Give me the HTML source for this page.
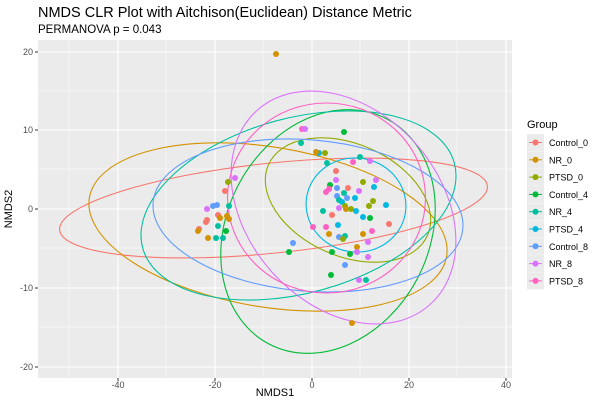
<!DOCTYPE html>
<html><head><meta charset="utf-8"><style>body{margin:0;background:#fff}svg{display:block;font-family:"Liberation Sans",sans-serif}</style></head><body>
<svg width="600" height="400" xmlns="http://www.w3.org/2000/svg">
<text x="38" y="17" font-size="14.5" fill="#000">NMDS CLR Plot with Aitchison(Euclidean) Distance Metric</text>
<text x="38" y="33" font-size="11.5" fill="#000">PERMANOVA p = 0.043</text>
<rect x="38" y="40" width="474" height="338" fill="#EBEBEB"/>
<g stroke="#fff" stroke-width="0.5">
<line x1="69" x2="69" y1="40" y2="378"/><line x1="166" x2="166" y1="40" y2="378"/><line x1="263" x2="263" y1="40" y2="378"/><line x1="360" x2="360" y1="40" y2="378"/><line x1="457" x2="457" y1="40" y2="378"/>
<line y1="91" y2="91" x1="38" x2="512"/><line y1="169" y2="169" x1="38" x2="512"/><line y1="248" y2="248" x1="38" x2="512"/><line y1="327" y2="327" x1="38" x2="512"/>
</g>
<g stroke="#fff" stroke-width="1.1">
<line x1="118" x2="118" y1="40" y2="378"/><line x1="215" x2="215" y1="40" y2="378"/><line x1="312" x2="312" y1="40" y2="378"/><line x1="409" x2="409" y1="40" y2="378"/><line x1="506" x2="506" y1="40" y2="378"/>
<line y1="52" y2="52" x1="38" x2="512"/><line y1="130" y2="130" x1="38" x2="512"/><line y1="209" y2="209" x1="38" x2="512"/><line y1="288" y2="288" x1="38" x2="512"/><line y1="367" y2="367" x1="38" x2="512"/>
</g>
<g fill="none" stroke-width="1.1">
<ellipse cx="273.5" cy="208" rx="215" ry="45" transform="rotate(-5.9 273.5 208)" stroke="#F8766D"/>
<ellipse cx="268" cy="227" rx="181" ry="80" transform="rotate(9.3 268 227)" stroke="#D39200"/>
<ellipse cx="348" cy="200" rx="87" ry="56" transform="rotate(24 348 200)" stroke="#93AA00"/>
<ellipse cx="328" cy="231.5" rx="127" ry="101" transform="rotate(117.8 328 231.5)" stroke="#00BA38"/>
<ellipse cx="298.5" cy="205.5" rx="161.5" ry="87.5" transform="rotate(-15.25 298.5 205.5)" stroke="#00C19F"/>
<ellipse cx="356" cy="205" rx="50" ry="47" transform="rotate(10 356 205)" stroke="#00B9E3"/>
<ellipse cx="308" cy="215.5" rx="155.4" ry="75.7" transform="rotate(4.8 308 215.5)" stroke="#619CFF"/>
<ellipse cx="343.5" cy="207.5" rx="130" ry="96.4" transform="rotate(48.5 343.5 207.5)" stroke="#DB72FB"/>
<ellipse cx="326.5" cy="198" rx="99" ry="95" stroke="#FF61C3"/>
</g>
<g>
<circle cx="302" cy="129" r="3" fill="#FF61C3"/><circle cx="305" cy="129" r="3" fill="#DB72FB"/>
<circle cx="344" cy="132" r="3" fill="#00BA38"/><circle cx="301" cy="143" r="3" fill="#00C19F"/>
<circle cx="319" cy="153" r="3" fill="#00B9E3"/><circle cx="325" cy="153" r="3" fill="#93AA00"/>
<circle cx="360" cy="157" r="3" fill="#00C19F"/><circle cx="353" cy="162" r="3" fill="#FF61C3"/><circle cx="370" cy="161" r="3" fill="#DB72FB"/>
<circle cx="327" cy="163" r="3" fill="#00C19F"/><circle cx="336" cy="171" r="3" fill="#F8766D"/>
<circle cx="228" cy="182" r="3" fill="#93AA00"/><circle cx="235" cy="178" r="3" fill="#DB72FB"/>
<circle cx="336" cy="180" r="3" fill="#DB72FB"/><circle cx="363" cy="182" r="3" fill="#93AA00"/><circle cx="376" cy="180" r="3" fill="#DB72FB"/>
<circle cx="330" cy="185" r="3" fill="#00BA38"/><circle cx="374" cy="187" r="3" fill="#00B9E3"/>
<circle cx="337" cy="188" r="3" fill="#619CFF"/><circle cx="348" cy="188" r="3" fill="#F8766D"/>
<circle cx="329" cy="189" r="3" fill="#FF61C3"/><circle cx="326" cy="192" r="3" fill="#FF61C3"/>
<circle cx="344" cy="193" r="3" fill="#00C19F"/><circle cx="359" cy="191" r="3" fill="#DB72FB"/>
<circle cx="225" cy="191" r="3" fill="#F8766D"/>
<circle cx="337" cy="196" r="3" fill="#619CFF"/><circle cx="347" cy="198" r="3" fill="#619CFF"/><circle cx="355" cy="198" r="3" fill="#00B9E3"/>
<circle cx="339" cy="200" r="3" fill="#00C19F"/><circle cx="342" cy="202" r="3" fill="#00B9E3"/><circle cx="373" cy="201" r="3" fill="#93AA00"/>
<circle cx="217" cy="205" r="3" fill="#619CFF"/><circle cx="213" cy="206" r="3" fill="#619CFF"/><circle cx="229" cy="206" r="3" fill="#00C19F"/>
<circle cx="345" cy="206" r="3" fill="#93AA00"/><circle cx="369" cy="206" r="3" fill="#93AA00"/>
<circle cx="207" cy="209" r="3" fill="#DB72FB"/><circle cx="339" cy="208" r="3" fill="#DB72FB"/>
<circle cx="346" cy="209" r="3" fill="#D39200"/><circle cx="351" cy="209" r="3" fill="#93AA00"/><circle cx="356" cy="211" r="3" fill="#00B9E3"/>
<circle cx="323" cy="211" r="3" fill="#00C19F"/><circle cx="332" cy="215" r="3" fill="#F8766D"/>
<circle cx="218" cy="215" r="3" fill="#F8766D"/><circle cx="220" cy="218" r="3" fill="#D39200"/><circle cx="227" cy="216" r="3" fill="#D39200"/><circle cx="229" cy="219" r="3" fill="#D39200"/>
<circle cx="207" cy="220" r="3" fill="#F8766D"/><circle cx="206" cy="222" r="3" fill="#F8766D"/>
<circle cx="363" cy="217" r="3" fill="#00B9E3"/><circle cx="370" cy="218" r="3" fill="#00BA38"/>
<circle cx="218" cy="226" r="3" fill="#00C19F"/>
<circle cx="313" cy="227" r="3" fill="#FF61C3"/><circle cx="326" cy="227" r="3" fill="#FF61C3"/><circle cx="338" cy="225" r="3" fill="#00B9E3"/><circle cx="372" cy="231" r="3" fill="#FF61C3"/>
<circle cx="199" cy="229" r="3" fill="#F8766D"/><circle cx="198" cy="231" r="3" fill="#D39200"/>
<circle cx="226" cy="231" r="3" fill="#00BA38"/>
<circle cx="329" cy="234" r="3" fill="#D39200"/><circle cx="363" cy="234" r="3" fill="#D39200"/>
<circle cx="339" cy="237" r="3" fill="#619CFF"/><circle cx="345" cy="236" r="3" fill="#00C19F"/><circle cx="343" cy="239" r="3" fill="#93AA00"/>
<circle cx="208" cy="238" r="3" fill="#D39200"/><circle cx="216" cy="238" r="3" fill="#00C19F"/><circle cx="223" cy="238" r="3" fill="#00C19F"/>
<circle cx="368" cy="242" r="3" fill="#DB72FB"/><circle cx="293" cy="243" r="3" fill="#619CFF"/>
<circle cx="289" cy="252" r="3" fill="#00BA38"/><circle cx="332" cy="252" r="3" fill="#00BA38"/>
<circle cx="357" cy="247" r="3" fill="#D39200"/><circle cx="357" cy="252" r="3" fill="#DB72FB"/>
<circle cx="350" cy="254" r="3" fill="#00BA38"/><circle cx="368" cy="257" r="3" fill="#DB72FB"/>
<circle cx="345" cy="265" r="3" fill="#619CFF"/><circle cx="331" cy="275" r="3" fill="#00BA38"/>
<circle cx="359" cy="280" r="3" fill="#DB72FB"/><circle cx="366" cy="280" r="3" fill="#00C19F"/>
<circle cx="276" cy="54" r="3" fill="#D39200"/><circle cx="352" cy="323" r="3" fill="#D39200"/>
<circle cx="389" cy="224" r="3" fill="#F8766D"/><circle cx="386" cy="205" r="3" fill="#00B9E3"/>
<circle cx="316" cy="152" r="3" fill="#D39200"/>
</g>
<g font-size="9" fill="#4D4D4D" text-anchor="middle">
<text x="118" y="388">-40</text><text x="215" y="388">-20</text><text x="312" y="388">0</text><text x="409" y="388">20</text><text x="506" y="388">40</text>
</g>
<g font-size="9" fill="#4D4D4D" text-anchor="end">
<text x="33" y="55">20</text><text x="33" y="133">10</text><text x="33" y="212">0</text><text x="33" y="291">-10</text><text x="33" y="370">-20</text>
</g>
<g stroke="#333" stroke-width="1">
<line x1="118" x2="118" y1="378" y2="381"/><line x1="215" x2="215" y1="378" y2="381"/><line x1="312" x2="312" y1="378" y2="381"/><line x1="409" x2="409" y1="378" y2="381"/><line x1="506" x2="506" y1="378" y2="381"/>
<line x1="35" x2="38" y1="52" y2="52"/><line x1="35" x2="38" y1="130" y2="130"/><line x1="35" x2="38" y1="209" y2="209"/><line x1="35" x2="38" y1="288" y2="288"/><line x1="35" x2="38" y1="367" y2="367"/>
</g>
<text x="275" y="396" font-size="11" text-anchor="middle">NMDS1</text>
<text x="12" y="209" font-size="11" text-anchor="middle" transform="rotate(-90 12 209)">NMDS2</text>
<text x="527" y="128" font-size="11">Group</text>
<g font-size="9" fill="#000">
<g transform="translate(527,134)"><rect width="17" height="17" fill="#EBEBEB"/><line x1="2" x2="15" y1="8.5" y2="8.5" stroke="#F8766D"/><circle cx="8.5" cy="8.5" r="3" fill="#F8766D"/><text x="22" y="12">Control_0</text></g>
<g transform="translate(527,151.3)"><rect width="17" height="17" fill="#EBEBEB"/><line x1="2" x2="15" y1="8.5" y2="8.5" stroke="#D39200"/><circle cx="8.5" cy="8.5" r="3" fill="#D39200"/><text x="22" y="12">NR_0</text></g>
<g transform="translate(527,168.6)"><rect width="17" height="17" fill="#EBEBEB"/><line x1="2" x2="15" y1="8.5" y2="8.5" stroke="#93AA00"/><circle cx="8.5" cy="8.5" r="3" fill="#93AA00"/><text x="22" y="12">PTSD_0</text></g>
<g transform="translate(527,185.9)"><rect width="17" height="17" fill="#EBEBEB"/><line x1="2" x2="15" y1="8.5" y2="8.5" stroke="#00BA38"/><circle cx="8.5" cy="8.5" r="3" fill="#00BA38"/><text x="22" y="12">Control_4</text></g>
<g transform="translate(527,203.2)"><rect width="17" height="17" fill="#EBEBEB"/><line x1="2" x2="15" y1="8.5" y2="8.5" stroke="#00C19F"/><circle cx="8.5" cy="8.5" r="3" fill="#00C19F"/><text x="22" y="12">NR_4</text></g>
<g transform="translate(527,220.5)"><rect width="17" height="17" fill="#EBEBEB"/><line x1="2" x2="15" y1="8.5" y2="8.5" stroke="#00B9E3"/><circle cx="8.5" cy="8.5" r="3" fill="#00B9E3"/><text x="22" y="12">PTSD_4</text></g>
<g transform="translate(527,237.8)"><rect width="17" height="17" fill="#EBEBEB"/><line x1="2" x2="15" y1="8.5" y2="8.5" stroke="#619CFF"/><circle cx="8.5" cy="8.5" r="3" fill="#619CFF"/><text x="22" y="12">Control_8</text></g>
<g transform="translate(527,255.1)"><rect width="17" height="17" fill="#EBEBEB"/><line x1="2" x2="15" y1="8.5" y2="8.5" stroke="#DB72FB"/><circle cx="8.5" cy="8.5" r="3" fill="#DB72FB"/><text x="22" y="12">NR_8</text></g>
<g transform="translate(527,272.4)"><rect width="17" height="17" fill="#EBEBEB"/><line x1="2" x2="15" y1="8.5" y2="8.5" stroke="#FF61C3"/><circle cx="8.5" cy="8.5" r="3" fill="#FF61C3"/><text x="22" y="12">PTSD_8</text></g>
</g>
</svg>
</body></html>
